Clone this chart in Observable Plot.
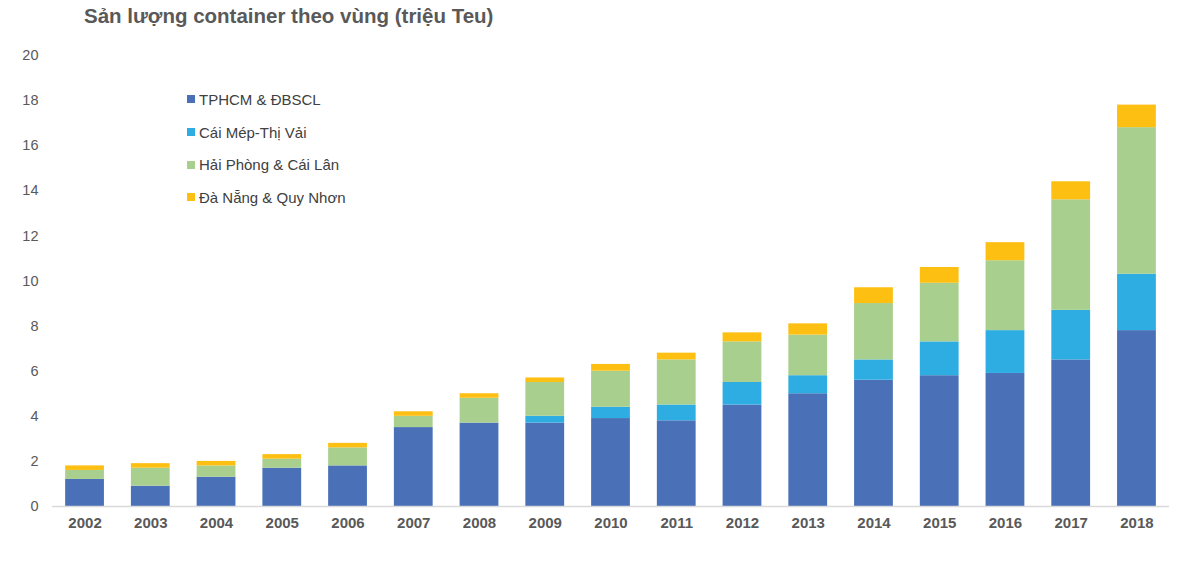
<!DOCTYPE html>
<html>
<head>
<meta charset="utf-8">
<script src="https://cdn.jsdelivr.net/npm/d3@7"></script>
<script src="https://cdn.jsdelivr.net/npm/@observablehq/plot@0.6"></script>
<style>
  body { margin: 0; background: #fff; font-family: "Liberation Sans", Arial, sans-serif; }
  #wrap { position: relative; width: 1200px; height: 562px; }
  #title { position: absolute; left: 84px; top: 4px; font-size: 20.5px; font-weight: bold; color: #595959; white-space: nowrap; }
  #legend { position: absolute; left: 187px; top: 83px; font-size: 15px; color: #404040; }
  .row { height: 32.7px; display: flex; align-items: center; white-space: nowrap; }
  .sw { width: 8px; height: 8px; margin-right: 4px; display: inline-block; }
  svg { position: absolute; left: 0; top: 0; }
</style>
</head>
<body>
<div id="wrap">
  <div id="chart"></div>
  <div id="title">Sản lượng container theo vùng (triệu Teu)</div>
  <div id="legend"></div>
</div>
<script>
const years = ["2002","2003","2004","2005","2006","2007","2008","2009","2010","2011","2012","2013","2014","2015","2016","2017","2018"];
const seriesNames = ["TPHCM & ĐBSCL", "Cái Mép-Thị Vải", "Hải Phòng & Cái Lân", "Đà Nẵng & Quy Nhơn"];
const tphcm    = [1.2, 0.9, 1.3, 1.7, 1.8, 3.5, 3.7, 3.7, 3.9, 3.8, 4.5, 5.0, 5.6, 5.8, 5.9, 6.5, 7.8];
const caimep   = [0,   0,   0,   0,   0,   0,   0,   0.3, 0.5, 0.7, 1.0, 0.8, 0.9, 1.5, 1.9, 2.2, 2.5];
const haiphong = [0.4, 0.8, 0.5, 0.4, 0.8, 0.5, 1.1, 1.5, 1.6, 2.0, 1.8, 1.8, 2.5, 2.6, 3.1, 4.9, 6.5];
const danang   = [0.2, 0.2, 0.2, 0.2, 0.2, 0.2, 0.2, 0.2, 0.3, 0.3, 0.4, 0.5, 0.7, 0.7, 0.8, 0.8, 1.0];
const yTicks = [0, 2, 4, 6, 8, 10, 12, 14, 16, 18, 20];
const colors = ["#4a71b8", "#2eade3", "#a9cf8e", "#fdbf12"];

const seriesValues = [tphcm, caimep, haiphong, danang];
const data = [];
seriesValues.forEach((vals, si) => {
  vals.forEach((v, i) => data.push({year: years[i], series: seriesNames[si], value: v}));
});

const chart = Plot.plot({
  width: 1200,
  height: 562,
  marginTop: 55,
  marginBottom: 56,
  marginLeft: 52,
  marginRight: 31,
  style: { fontFamily: "Liberation Sans, Arial, sans-serif", background: "transparent" },
  x: { domain: years, paddingInner: 0.41, paddingOuter: 0.2, round: false, label: null },
  y: { domain: [0, 20], ticks: yTicks, label: null },
  color: { domain: seriesNames, range: colors },
  marks: [
    Plot.barY(data, Plot.stackY({order: null}, {x: "year", y: "value", fill: "series", z: "series"})),
    Plot.ruleY([0], { stroke: "#d9d9d9", strokeWidth: 1.5 }),
    Plot.axisY({ ticks: yTicks, tickSize: 0, tickPadding: 14, fontSize: 14.5, fill: "#595959", label: null }),
    Plot.axisX({ tickSize: 0, tickPadding: 11, fontSize: 15, fontWeight: "bold", fill: "#595959", label: null })
  ]
});
document.getElementById("chart").appendChild(chart);

const legend = document.getElementById("legend");
seriesNames.forEach((name, i) => {
  const row = document.createElement("div");
  row.className = "row";
  const sw = document.createElement("span");
  sw.className = "sw";
  sw.style.background = colors[i];
  row.appendChild(sw);
  row.appendChild(document.createTextNode(name));
  legend.appendChild(row);
});
</script>
</body>
</html>
